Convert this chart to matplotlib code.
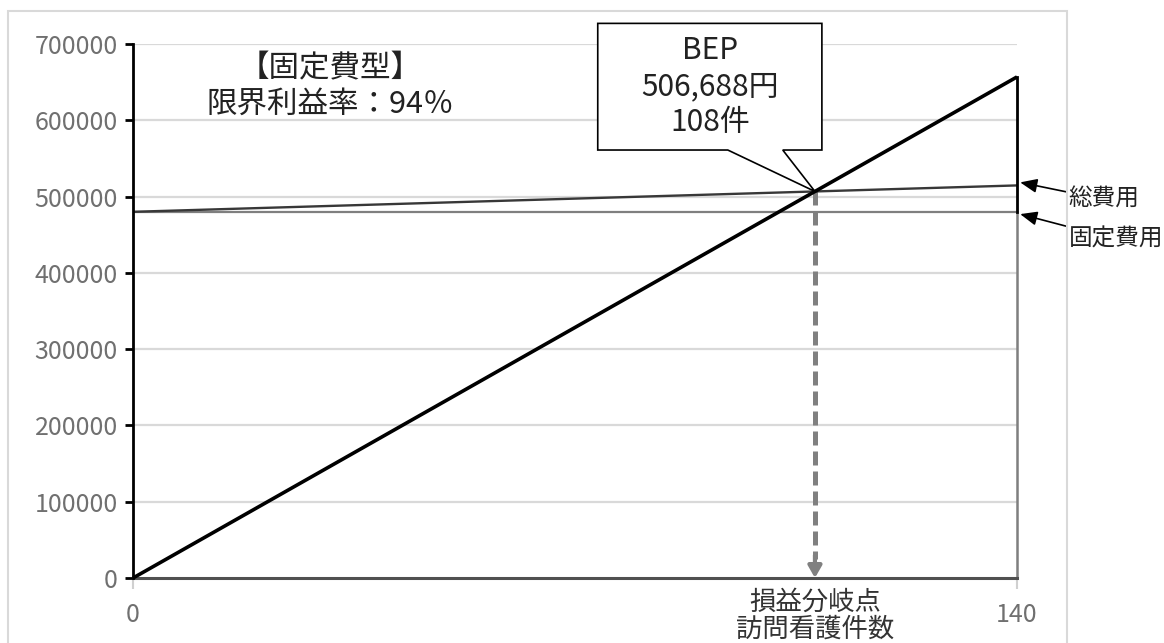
import matplotlib
matplotlib.use("Agg")
import matplotlib.pyplot as plt
from matplotlib.patches import Polygon, Rectangle

plt.rcParams['font.family'] = ['Noto Sans CJK JP', 'DejaVu Sans']

# 損益分岐点の計算値
fixed_cost = 480000
bep_sales = 506688
bep_count = 108
max_count = 140
unit_price = bep_sales / bep_count                    # 売上単価
unit_var = (bep_sales - fixed_cost) / bep_count       # 変動費単価

counts = [0, max_count]
sales = [c * unit_price for c in counts]
total_cost = [fixed_cost + c * unit_var for c in counts]
fixed = [fixed_cost, fixed_cost]

yticks = [0, 100000, 200000, 300000, 400000, 500000, 600000, 700000]
xticks = [0, max_count]

fig = plt.figure(figsize=(11.64, 6.43), dpi=100)
ax = fig.add_axes([0.1143, 0.1011, 0.7594, 0.8305])

# 外枠
fig.patches.append(Rectangle((0.0069, -0.1), 0.9098, 1.0829, transform=fig.transFigure,
                             fill=False, edgecolor='#d9d9d9', lw=1.5, zorder=0))

ax.set_xlim(0, max_count)
ax.set_ylim(0, 700000)
for y in yticks[1:]:
    ax.axhline(y, color='#d9d9d9', lw=1.6, zorder=1)

# 固定費・総費用・売上
ax.plot(counts, fixed, color='#7f7f7f', lw=1.6, zorder=3)
ax.plot([max_count, max_count], [0, fixed_cost], color='#7f7f7f', lw=1.8, zorder=3,
        clip_on=False)
ax.plot(counts, total_cost, color='#383838', lw=1.7, zorder=3)
ax.plot([max_count, max_count], [fixed_cost, sales[1]], color='black', lw=2.0, zorder=4,
        clip_on=False)
ax.plot(counts, sales, color='black', lw=2.6, zorder=5, solid_capstyle='butt',
        clip_on=False)
ax.plot(counts, [0, 0], color='#505050', lw=2.2, zorder=4, clip_on=False)

# BEP から件数への点線矢印
ax.plot([bep_count, bep_count], [bep_sales, 25000], color='#808080', lw=3.6,
        dashes=(2.8, 1.2), zorder=2)
ax.annotate('', xy=(bep_count, 0), xytext=(bep_count, 30000),
            arrowprops=dict(arrowstyle='-|>,head_width=0.4,head_length=0.7',
                            color='#808080', lw=3.0, shrinkA=0, shrinkB=0), zorder=2)

# 吹き出し
callout = [(73.6, 727000), (109.1, 727000), (109.1, 561000), (102.9, 561000),
           (bep_count, bep_sales), (94.2, 561000), (73.6, 561000)]
ax.add_patch(Polygon(callout, closed=True, facecolor='white', edgecolor='black',
                     lw=1.2, zorder=6, clip_on=False))
ax.text(91.35, 644000, f'BEP\n{bep_sales:,}円\n{bep_count}件', ha='center', va='center',
        fontsize=21.5, linespacing=1.22, color='#222222', zorder=7)

ax.text(31.2, 644000, '【固定費型】\n限界利益率：94％', ha='center', va='center',
        fontsize=22, linespacing=1.2, color='#222222', zorder=7)

# 右側のラベル
ax.annotate('総費用', xy=(max_count + 0.5, total_cost[1] + 4000),
            xytext=(max_count + 8.2, 496000), ha='left', va='center',
            fontsize=17, color='#222222', annotation_clip=False,
            arrowprops=dict(arrowstyle='-|>,head_width=0.25,head_length=0.6',
                            color='black', lw=1.2, shrinkA=0, shrinkB=0))
ax.annotate('固定費用', xy=(max_count + 0.5, fixed_cost - 3000),
            xytext=(max_count + 8.2, 444000), ha='left', va='center',
            fontsize=17, color='#222222', annotation_clip=False,
            arrowprops=dict(arrowstyle='-|>,head_width=0.25,head_length=0.6',
                            color='black', lw=1.2, shrinkA=0, shrinkB=0))

ax.text(bep_count, -49000, '損益分岐点\n訪問看護件数', ha='center', va='center',
        fontsize=19, linespacing=1.0, color='#333333')

# 軸
for s in ['top', 'right', 'bottom']:
    ax.spines[s].set_visible(False)
ax.spines['left'].set_color('black')
ax.spines['left'].set_linewidth(2.0)
ax.spines['left'].set_zorder(6)
ax.set_yticks(yticks)
ax.set_yticklabels([str(v) for v in yticks])
ax.tick_params(axis='y', length=6, width=2.0, color='black', labelsize=18,
               labelcolor='#707070', pad=5)
ax.set_xticks(xticks)
ax.set_xticklabels([str(v) for v in xticks])
ax.tick_params(axis='x', length=8, width=1.5, color='#d0d0d0', labelsize=18,
               labelcolor='#707070', pad=9)

fig.savefig('out.png', dpi=100)
